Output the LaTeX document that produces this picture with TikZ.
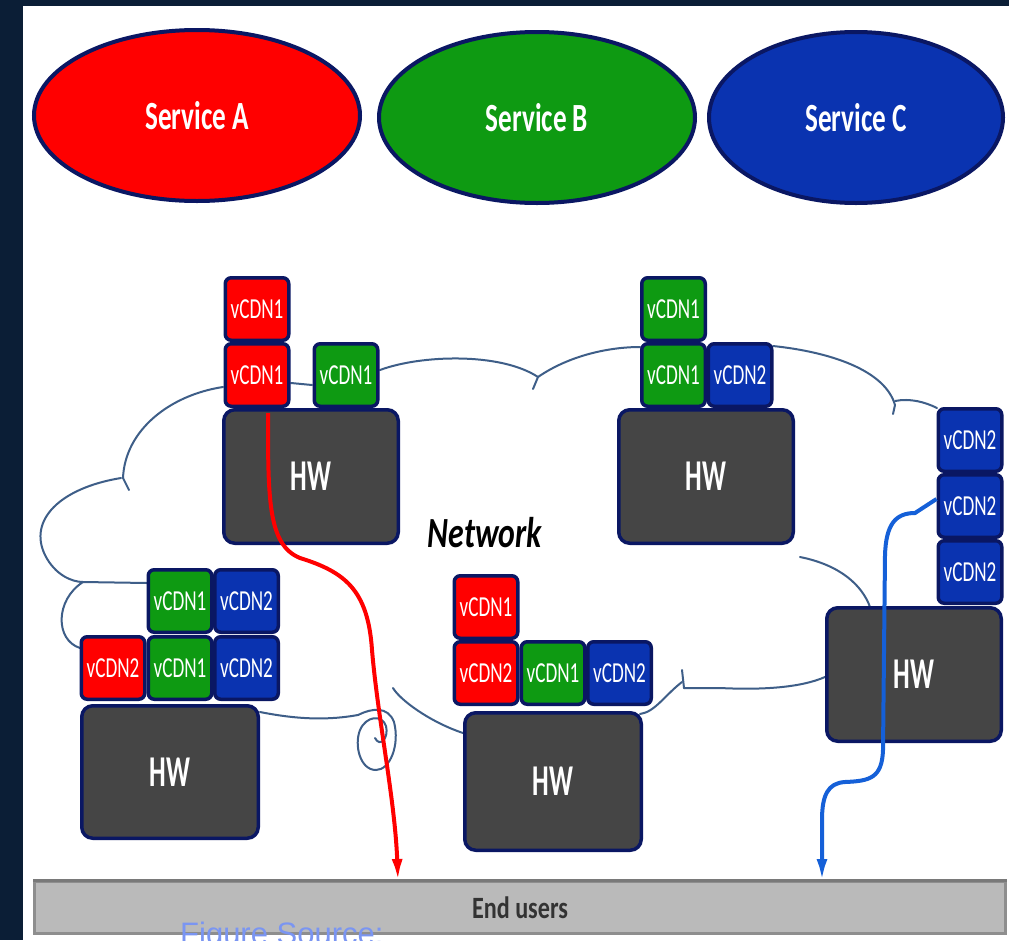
\documentclass[tikz,border=0pt]{standalone}
\usepackage{fontspec}
\setmainfont{Carlito}
\newfontfamily\svcf{Carlito}[FakeStretch=0.68]
\newfontfamily\vcf{Carlito}[FakeStretch=0.66]
\newfontfamily\hwf{Carlito}[FakeStretch=0.60]
\newfontfamily\netf{Carlito}[FakeStretch=0.74]
\newfontfamily\endf{Carlito}[FakeStretch=0.78]
\newfontfamily\srcf{Liberation Sans}
\usetikzlibrary{arrows.meta,shapes.geometric}
\definecolor{navybg}{HTML}{0B1E36}
\definecolor{edge}{HTML}{0A1763}
\definecolor{cred}{HTML}{FF0000}
\definecolor{cgreen}{HTML}{0E9A12}
\definecolor{cblue}{HTML}{0A33B0}
\definecolor{hwgray}{HTML}{454545}
\definecolor{cloudc}{HTML}{3E5E88}
\definecolor{arrblue}{HTML}{1560D8}
\definecolor{barfill}{HTML}{BABABA}
\definecolor{baredge}{HTML}{8E8E8E}
\definecolor{srcblue}{HTML}{7A95F2}
\tikzset{
  svc/.style={ellipse, draw=edge, line width=4pt, inner sep=0pt, text=white,
    font=\svcf\bfseries\fontsize{40}{40}\selectfont},
  vbox/.style={draw=edge, line width=3.5pt, rounded corners=6pt, minimum width=63.5pt,
    minimum height=62.5pt, inner sep=0pt, text=white, font=\vcf\fontsize{29}{29}\selectfont},
  rbox/.style={vbox, fill=cred},
  gbox/.style={vbox, fill=cgreen},
  bbox/.style={vbox, fill=cblue},
  hwbox/.style={draw=edge, line width=3.5pt, rounded corners=11pt, fill=hwgray, text=white,
    inner sep=0pt, font=\hwf\bfseries\fontsize{44}{44}\selectfont},
  cloudline/.style={draw=cloudc, line width=2pt, line cap=round},
  flow/.style={line width=4pt, -{Latex[length=22pt,width=11pt]}}
}
\begin{document}
\begin{tikzpicture}[x=1pt,y=-1pt]
\fill[navybg] (0,0) rectangle (1009,940);
\useasboundingbox (0,0) rectangle (1009,940);
\fill[white] (23,6) rectangle (1009,940);

% services
\node[svc, fill=cred, minimum width=326pt, minimum height=171pt] (sa) at (197,115.5) {Service A};
\node[svc, fill=cgreen, minimum width=316pt, minimum height=171pt] (sb) at (537,117.5) {Service B};
\node[svc, fill=cblue, minimum width=294pt, minimum height=171pt] (sc) at (856,117.5) {Service C};

% cloud outline
\draw[cloudline] (223,387) .. controls (170,395) and (125,430) .. (123,478);
\draw[cloudline] (123,478) -- (129,490);
\draw[cloudline] (121,478) .. controls (60,488) and (28,520) .. (45,555) .. controls (55,575) and (72,582) .. (83,582);
\draw[cloudline] (83,582) -- (147,583);
\draw[cloudline] (83,582) .. controls (55,600) and (55,640) .. (80,648);
\draw[cloudline] (291,383) -- (312,385);
\draw[cloudline] (380,370) .. controls (420,355) and (500,352) .. (538,377);
\draw[cloudline] (538,377) -- (533,389);
\draw[cloudline] (538,377) .. controls (570,355) and (610,347) .. (640,347);
\draw[cloudline] (773,346) .. controls (830,352) and (885,370) .. (895,405);
\draw[cloudline] (895,405) -- (893,414);
\draw[cloudline] (895,401) .. controls (910,398) and (925,402) .. (937,408);
\draw[cloudline] (800,557) .. controls (840,565) and (862,585) .. (870,607);
\draw[cloudline] (825,677) .. controls (800,688) and (760,690) .. (720,688) -- (684,688);
\draw[cloudline] (684,688) -- (682,670);
\draw[cloudline] (682,682) .. controls (665,695) and (655,712) .. (640,714);
\draw[cloudline] (260,712) .. controls (300,720) and (330,720) .. (358,715)
  .. controls (372,708) and (388,706) .. (394,722)
  .. controls (400,745) and (390,770) .. (376,770)
  .. controls (360,770) and (354,745) .. (360,730)
  .. controls (366,716) and (382,714) .. (386,726)
  .. controls (389,738) and (380,748) .. (375,738);
\draw[cloudline] (393,688) .. controls (400,700) and (430,722) .. (463,733);

% top-left group
\node[rbox] (a1) at (257,309) {vCDN1};
\node[rbox] (a2) at (257,375) {vCDN1};
\node[gbox] (a3) at (346,375) {vCDN1};
\node[hwbox, minimum width=174.5pt, minimum height=133.5pt] (ahw) at (311,476.5) {HW};

% top-middle group
\node[gbox] (b1) at (673.5,309) {vCDN1};
\node[gbox] (b2) at (673.5,375) {vCDN1};
\node[bbox] (b3) at (740,375) {vCDN2};
\node[hwbox, minimum width=174.5pt, minimum height=133.5pt] (bhw) at (706,476.5) {HW};

% right group
\node[bbox] (c1) at (970,440) {vCDN2};
\node[bbox] (c2) at (970,506) {vCDN2};
\node[bbox] (c3) at (970,572) {vCDN2};
\node[hwbox, minimum width=174.5pt, minimum height=133.5pt] (chw) at (914,674.5) {HW};

% bottom-left group
\node[gbox] (d1) at (180,601) {vCDN1};
\node[bbox] (d2) at (246.5,601) {vCDN2};
\node[rbox] (d3) at (113,668) {vCDN2};
\node[gbox] (d4) at (180,668) {vCDN1};
\node[bbox] (d5) at (246.5,668) {vCDN2};
\node[hwbox, minimum width=176.5pt, minimum height=132.5pt] (dhw) at (170,772) {HW};

% bottom-middle group
\node[rbox] (e1) at (486,607) {vCDN1};
\node[rbox] (e2) at (486,673) {vCDN2};
\node[gbox] (e3) at (553,673) {vCDN1};
\node[bbox] (e4) at (619.5,673) {vCDN2};
\node[hwbox, minimum width=176.5pt, minimum height=137.5pt] (ehw) at (553,781.5) {HW};

% network label
\node[font=\netf\bfseries\itshape\fontsize{43}{43}\selectfont] (net) at (485,533) {Network};

% end users bar
\node[draw=baredge, fill=barfill, line width=3pt, minimum width=971pt, minimum height=52pt,
  inner sep=0pt, text=black!80, font=\endf\bfseries\fontsize{31}{31}\selectfont] (users) at (520,907.5) {End users};
\draw[baredge!85!black, line width=3pt] (users.north west) -- (users.north east);

% flows
\coordinate (redend) at (398,881);
\coordinate (blueend) at (822,881);
\draw[flow, cred] ([xshift=11pt,yshift=-5pt]a2.south) .. controls (268,500) and (268,545) .. (300,558)
  .. controls (345,572) and (368,590) .. (372,650)
  .. controls (378,720) and (395,800) .. (redend);
\draw[flow, arrblue] ([yshift=7pt]c2.west) -- (915,513) .. controls (895,513) and (886,525) .. (885,555)
  -- (883,750) .. controls (882,778) and (870,781) .. (845,782)
  .. controls (828,783) and (822,795) .. (822,820) -- (blueend);

% figure source (cut off at bottom, as in the reference)
\begin{scope}
\clip (0,0) rectangle (1009,940);
\node[anchor=base west, inner sep=0pt, text=srcblue, font=\srcf\fontsize{31}{31}\selectfont] (src) at (180,944) {Figure Source:};
\end{scope}
\end{tikzpicture}
\end{document}
